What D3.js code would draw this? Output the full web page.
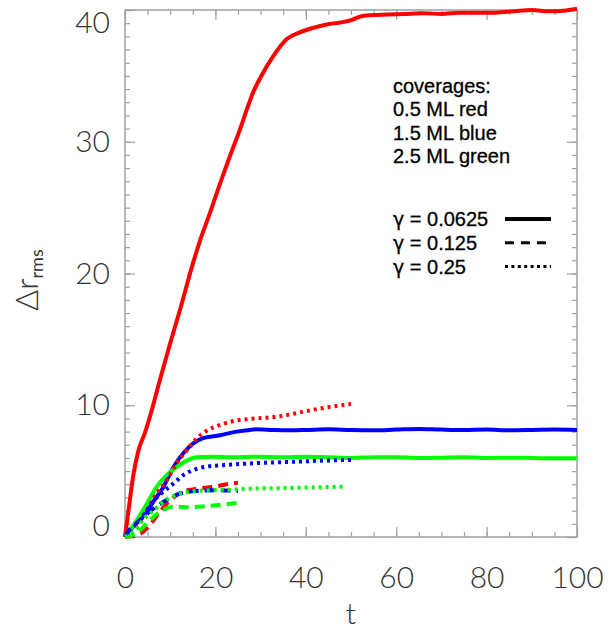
<!DOCTYPE html>
<html>
<head>
<meta charset="utf-8">
<script src="https://cdn.jsdelivr.net/npm/d3@7"></script>
<style>
	body { margin: 0; background: #fff; }
	.tick-label text { font-family: Lato, "Open Sans", sans-serif; font-weight: 300; font-size: 30px; fill: #333; }
	.legend { font-family: "Liberation Sans", Arial, sans-serif; font-size: 20px; fill: #000; stroke: #000; stroke-width: 0.3px; }
	.gamma { font-family: "DejaVu Sans", sans-serif; font-size: 19px; }
</style>
</head>
<body>
<svg></svg>
<script>
// coverage 0.5 ML (red), 1.5 ML (blue), 2.5 ML (green); gamma 0.0625 solid, 0.125 dashed, 0.25 dotted
let redSolid = [[0,0],[0.7,1.8],[1.8,4.6],[3,6.6],[4.4,7.9],[5.9,9.6],[7.7,11.9],[10,14.7],[12.3,17.4],[14.8,20.5],
	[16.6,22.5],[18.8,24.6],[21,26.8],[23.2,28.9],[25.4,30.9],[26.9,32.4],[28.4,33.8],[30,34.9],[32.8,36.5],[35.8,37.8],
	[38.7,38.3],[41.7,38.65],[44.6,38.9],[47.6,39.05],[49.8,39.2],[52,39.5],[54.2,39.6],[58,39.65],[62,39.7],[66,39.75],
	[70,39.7],[74,39.8],[78,39.8],[82,39.8],[86,39.9],[90,40.0],[94,39.9],[97,39.95],[100,40.1]];
let blueSolid = [[0,0],[1.8,0.8],[4,1.55],[6.3,2.7],[8.5,3.8],[10.7,5.3],[12.9,6.35],[15.1,7.1],[17.3,7.5],[21,7.72],
	[24.7,8.0],[27,8.1],[29,8.17],[33,8.12],[36.5,8.1],[40,8.12],[45,8.17],[50,8.12],[55,8.1],[60,8.15],[65,8.2],
	[70,8.15],[75,8.12],[80,8.15],[85,8.1],[90,8.12],[95,8.15],[100,8.12]];
let greenSolid = [[0,0],[2.6,1.27],[4.8,2.5],[7,3.8],[9.2,4.7],[11.4,5.3],[13.7,5.8],[15.9,6.05],[19.5,6.1],[23.2,6.05],
	[27,6.07],[30,6.1],[35,6.05],[40,6.1],[45,6.05],[50,6.0],[55,6.05],[60,6.05],[65,6.0],[70,6.02],[75,6.05],[80,6.0],
	[85,6.02],[90,6.0],[95,5.97],[100,5.98]];
let redDashed = [[0,0],[2.6,0.13],[4.8,0.63],[6.3,1.27],[7.7,1.9],[10,2.8],[12.9,3.44],[15.9,3.67],[19.5,3.8],[23.2,4.05],[25,4.12]];
let blueDashed = [[0,0],[0.4,0.25],[3.3,1.27],[6.3,2.15],[9.2,2.8],[12.2,3.3],[15.9,3.5],[20.3,3.55],[25,3.49]];
let greenDashed = [[0,0],[1.1,0.05],[3.3,0.5],[5.5,1.27],[7.7,1.9],[10.7,2.3],[14.4,2.25],[18,2.35],[21,2.43],[25,2.6]];
let redDotted = [[0,0],[2.6,0.8],[4.8,2.0],[7,3.3],[9.2,4.3],[11.4,5.6],[13.7,6.6],[15.9,7.5],[18,8.05],[21,8.5],[24,8.8],
	[29,9.0],[33,9.1],[36.5,9.3],[40,9.55],[44,9.8],[47,9.95],[50,10.1]];
let blueDotted = [[0,0],[2.6,1.0],[4.8,2.0],[6.5,2.8],[8.5,3.45],[10.7,4.05],[12.9,4.7],[15.1,5.08],[18,5.34],[22.5,5.47],
	[27,5.57],[30,5.62],[36.5,5.7],[44,5.8],[50,5.85]];
let greenDotted = [[0,0],[3,0.8],[4,1.3],[6.3,2.0],[8.5,2.68],[11.4,3.19],[14.4,3.44],[18.8,3.55],[24,3.6],[27.7,3.67],
	[36.5,3.72],[43,3.78],[49,3.82]];

let xTicks = [0, 20, 40, 60, 80, 100];
let yTicks = [0, 10, 20, 30, 40];
let coverageLines = ["coverages:", "0.5 ML red", "1.5 ML blue", "2.5 ML green"];
let gammaValues = ["0.0625", "0.125", "0.25"];

let styles = {
	solid: {width: 4, dash: null},
	dashed: {width: 4, dash: "10,6"},
	dotted: {width: 4, dash: "3,4"}
};
let series = [
	{data: redSolid, color: "#ff0000", style: "solid"},
	{data: blueSolid, color: "#0000ff", style: "solid"},
	{data: greenSolid, color: "#00ff00", style: "solid"},
	{data: redDashed, color: "#ff0000", style: "dashed"},
	{data: blueDashed, color: "#0000ff", style: "dashed"},
	{data: greenDashed, color: "#00ff00", style: "dashed"},
	{data: redDotted, color: "#ff0000", style: "dotted"},
	{data: blueDotted, color: "#0000ff", style: "dotted"},
	{data: greenDotted, color: "#00ff00", style: "dotted"}
];

let svgWidth = 610;
let svgHeight = 634;
let svg = d3.select("svg").attr("width", svgWidth).attr("height", svgHeight);
let margin = {top: 10, right: 33, bottom: 97, left: 125};
let width = svgWidth - margin.left - margin.right;
let height = svgHeight - margin.top - margin.bottom;
let canvas = svg.append("g").attr("transform", "translate(" + margin.left + "," + margin.top + ")");

let xscale = d3.scaleLinear().domain([0, 100]).range([0, width]);
let yscale = d3.scaleLinear().domain([0, 40]).range([height, 0]);

let axisColor = "#a0a0a0";
let minorX = d3.range(0, 101, 5);
let minorY = d3.range(0, 41, 1);

function styleAxis(g) {
	g.select(".domain").remove();
	g.selectAll(".tick line").attr("stroke", axisColor).attr("stroke-width", 1.2);
}

//Achsen unten / links mit Beschriftung
canvas.append("g").attr("class", "tick-label")
	.attr("transform", "translate(0," + height + ")")
	.call(d3.axisBottom(xscale).tickValues(xTicks).tickSize(-10).tickPadding(30).tickFormat(d3.format("d")))
	.call(styleAxis);
canvas.append("g").attr("transform", "translate(0," + height + ")")
	.call(d3.axisBottom(xscale).tickValues(minorX).tickSize(-5).tickFormat(""))
	.call(styleAxis);
let yg = canvas.append("g").attr("class", "tick-label")
	.call(d3.axisLeft(yscale).tickValues(yTicks).tickSize(-10).tickPadding(15).tickFormat(d3.format("d")))
	.call(styleAxis);
yg.selectAll(".tick text").attr("dy", function(d) {
	if (d === 0) return "-0.05em";
	if (d === 40) return "0.75em";
	return "0.32em";
});
canvas.append("g")
	.call(d3.axisLeft(yscale).tickValues(minorY).tickSize(-5).tickFormat(""))
	.call(styleAxis);

//Achsen oben / rechts ohne Beschriftung
canvas.append("g")
	.call(d3.axisTop(xscale).tickValues(xTicks).tickSize(-10).tickFormat(""))
	.call(styleAxis);
canvas.append("g")
	.call(d3.axisTop(xscale).tickValues(minorX).tickSize(-5).tickFormat(""))
	.call(styleAxis);
canvas.append("g").attr("transform", "translate(" + width + ",0)")
	.call(d3.axisRight(yscale).tickValues(yTicks).tickSize(-10).tickFormat(""))
	.call(styleAxis);
canvas.append("g").attr("transform", "translate(" + width + ",0)")
	.call(d3.axisRight(yscale).tickValues(minorY).tickSize(-5).tickFormat(""))
	.call(styleAxis);

canvas.append("rect")
	.attr("width", width).attr("height", height)
	.attr("fill", "none").attr("stroke", axisColor).attr("stroke-width", 1.5);

//Kurven
let line = d3.line()
	.x(function(d) {return xscale(d[0]);})
	.y(function(d) {return yscale(d[1]);})
	.curve(d3.curveMonotoneX);

canvas.selectAll(".curve")
	.data(series)
	.enter()
	.append("path")
		.attr("class", "curve")
		.attr("fill", "none")
		.attr("stroke", function(d) {return d.color;})
		.attr("stroke-width", function(d) {return styles[d.style].width;})
		.attr("stroke-dasharray", function(d) {return styles[d.style].dash;})
		.attr("stroke-linejoin", "round")
		.attr("d", function(d) {return line(d.data);});

//Achsenbeschriftungen
svg.append("text")
	.attr("text-anchor", "middle")
	.attr("x", margin.left + width / 2)
	.attr("y", 624)
	.style("font-family", "Lato, 'Open Sans', sans-serif")
	.style("font-weight", 300)
	.style("font-size", "30px")
	.style("fill", "#333")
	.text("t");

let ylab = svg.append("text")
	.attr("text-anchor", "middle")
	.attr("transform", "translate(38,280)rotate(-90)")
	.style("font-family", "Lato, 'Open Sans', sans-serif")
	.style("font-weight", 300)
	.style("font-size", "32px")
	.style("fill", "#333");
ylab.append("tspan").text("Δr");
ylab.append("tspan").attr("dy", "0.3em").style("font-size", "18px").style("font-weight", 400).text("rms");

//Legende
svg.selectAll(".cov")
	.data(coverageLines)
	.enter()
	.append("text")
		.attr("class", "legend cov")
		.attr("x", 393)
		.attr("y", function(d, i) {return 93 + i * 23.3;})
		.text(function(d) {return d;});

let lg = svg.selectAll(".gam")
	.data(gammaValues)
	.enter()
	.append("g")
		.attr("class", "gam")
		.attr("transform", function(d, i) {return "translate(0," + (219 + i * 23.8) + ")";});
let lt = lg.append("text")
	.attr("class", "legend")
	.attr("x", 393)
	.attr("y", 7);
lt.append("tspan").attr("class", "gamma").text("γ");
lt.append("tspan").text(function(d) {return " = " + d;});
lg.append("line")
	.attr("x1", 505).attr("x2", 551)
	.attr("stroke", "#000")
	.attr("stroke-width", function(d, i) {return i === 0 ? 4 : 3;})
	.attr("stroke-dasharray", function(d, i) {return i === 1 ? "9,7" : (i === 2 ? "3,3.4" : null);});
</script>
</body>
</html>
